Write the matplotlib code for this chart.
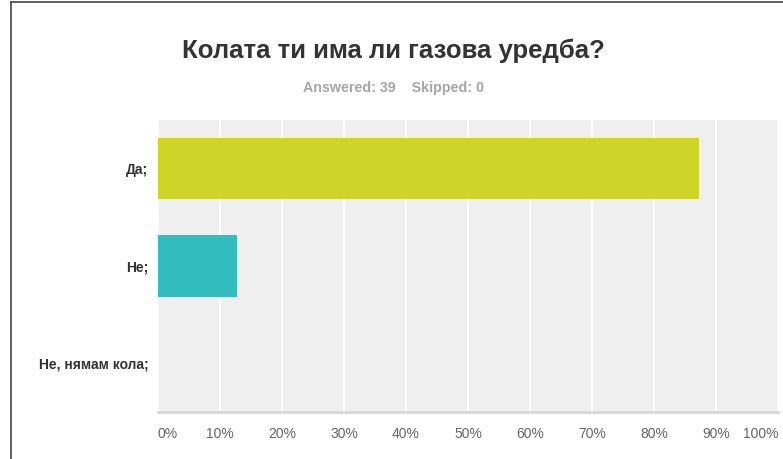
"""
Horizontal bar chart: survey answers on car gas installations.
"""

import matplotlib
matplotlib.use("Agg")
import matplotlib.pyplot as plt
from matplotlib.lines import Line2D

plt.rcParams["font.family"] = ["Liberation Sans Narrow", "Liberation Sans", "DejaVu Sans"]

# data
categories = ["Да;", "Не;", "Не, нямам кола;"]
shares = [87.18, 12.82, 0.0]
bar_colors = ["#cfd528", "#33bdbe", "#8a8a8a"]
ticks = list(range(0, 101, 10))
tick_labels = [f"{t}%" for t in ticks]
title = "Колата ти има ли газова уредба?"
subtitle = "Answered: 39    Skipped: 0"

fig = plt.figure(figsize=(7.83, 4.59), dpi=100)
ax = fig.add_axes([158 / 783, 1 - 412 / 459, 620 / 783, 292 / 459])

ypos = range(len(categories))
ax.barh(ypos, shares, height=0.63, color=bar_colors, zorder=3)
ax.set_ylim(len(categories) - 0.5, -0.5)
ax.set_xlim(0, 100)

ax.set_facecolor("#efefef")
ax.set_xticks(ticks)
ax.set_xticklabels(tick_labels, fontsize=10, color="#666666")
ax.set_yticks(list(ypos))
ax.set_yticklabels(categories, fontsize=10, fontweight="bold", color="#333333",
                   family=["Liberation Sans", "DejaVu Sans"])
ax.tick_params(axis="both", length=0)
ax.tick_params(axis="x", pad=11)
ax.tick_params(axis="y", pad=7)
ax.grid(axis="x", color="white", linewidth=1.2, zorder=1)
for side in ["top", "right", "left"]:
    ax.spines[side].set_visible(False)
ax.spines["bottom"].set_color("#d6d6d6")
ax.spines["bottom"].set_linewidth(2)

labels = ax.get_xticklabels()
labels[0].set_horizontalalignment("left")
labels[-1].set_horizontalalignment("right")

fig.text(393 / 783, 1 - 51 / 459, title, ha="center", va="center",
         fontsize=18.5, fontweight="bold", color="#333333",
         family=["Liberation Sans", "DejaVu Sans"])
fig.text(394 / 783, 1 - 88 / 459, subtitle, ha="center", va="center",
         fontsize=10.3, fontweight="bold", color="#a6a6a6",
         family=["Liberation Sans", "DejaVu Sans"])

# frame lines of the screenshot
fig.add_artist(Line2D([11 / 783, 11 / 783], [0, 1 - 2 / 459], color="#444444", linewidth=1.2))
fig.add_artist(Line2D([11 / 783, 1], [1 - 2 / 459, 1 - 2 / 459], color="#444444", linewidth=1.2))

fig.savefig("out.png", dpi=100)
plt.close(fig)
